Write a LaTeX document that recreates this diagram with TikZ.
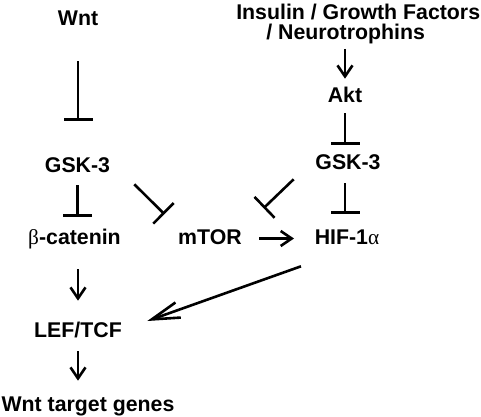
\documentclass[tikz,border=0pt]{standalone}
\usepackage{fontspec}
\setmainfont{Liberation Sans}
\newfontfamily\grk{Liberation Serif}
\usetikzlibrary{arrows.meta}

\begin{document}
\begin{tikzpicture}[x=1pt,y=1pt,line width=2.6pt,
    >={Straight Barb[length=11pt,width=15pt]},
    lbl/.style={font=\bfseries\fontsize{21.3}{17.5}\selectfont,inner sep=0pt,
      text height=15.5pt,text depth=4.5pt,anchor=base},
    act/.style={->},
    inh/.style={-{Bar[width=29pt]}},
    big/.style={-{Straight Barb[length=28pt,width=16pt]}}]
  \useasboundingbox (0,0) rectangle (481,416);
  \node[lbl] (wnt) at (78,390) {Wnt};
  \node[font=\bfseries\fontsize{21.3}{19.5}\selectfont,inner sep=0pt,align=left,anchor=north west]
    (ins) at (235,413) {Insulin / Growth Factors\\\hspace*{30pt}/ Neurotrophins};
  \node[lbl] (akt) at (345,314) {Akt};
  \node[lbl] (gskL) at (77.5,244) {GSK-3};
  \node[lbl] (gskR) at (348,247) {GSK-3};
  \node[lbl] (bcat) at (74.5,172) {{\grk\mdseries β}-catenin};
  \node[lbl] (mtor) at (210,172) {mTOR};
  \node[lbl] (hif) at (347,172) {HIF-1{\grk\mdseries α}};
  \node[lbl] (lef) at (78,79) {LEF/TCF};
  \node[lbl] (tgt) at (88,5) {Wnt target genes};

  \draw[inh,shorten <=29.5pt,shorten >=34.5pt] (wnt.south) -- (wnt.south |- gskL.north);
  \draw[inh,shorten <=7.5pt,shorten >=10.5pt] (gskL.south) -- (gskL.south |- bcat.north);
  \draw[act,shorten <=19.5pt,shorten >=19.5pt] (lef |- bcat.south) -- (lef.north);
  \draw[act,shorten <=8.5pt,shorten >=13.5pt] (lef.south) -- (lef.south |- tgt.north);
  \draw[act,shorten <=4pt,shorten >=6.5pt] (akt |- ins.south) -- (akt.north);
  \draw[inh,shorten <=5.5pt,shorten >=7.5pt] (akt.south) -- (akt.south |- gskR.north);
  \draw[inh,shorten <=8.5pt,shorten >=13.5pt] (akt |- gskR.south) -- (akt |- hif.north);
  \draw[inh] ([shift={(23,-6.5)}]gskL.south east) -- ([shift={(-12.5,13)}]mtor.north west);
  \draw[inh] ([shift={(-20.5,-4.5)}]gskR.south west) -- ([shift={(20.5,19)}]mtor.north east);
  \draw[act,shorten <=16pt,shorten >=19.5pt] (mtor) -- (hif);
  \draw[big] ([shift={(-12.5,-16.5)}]hif.south west) -- ([shift={(24.2,10.5)}]lef.east);
\end{tikzpicture}
\end{document}
